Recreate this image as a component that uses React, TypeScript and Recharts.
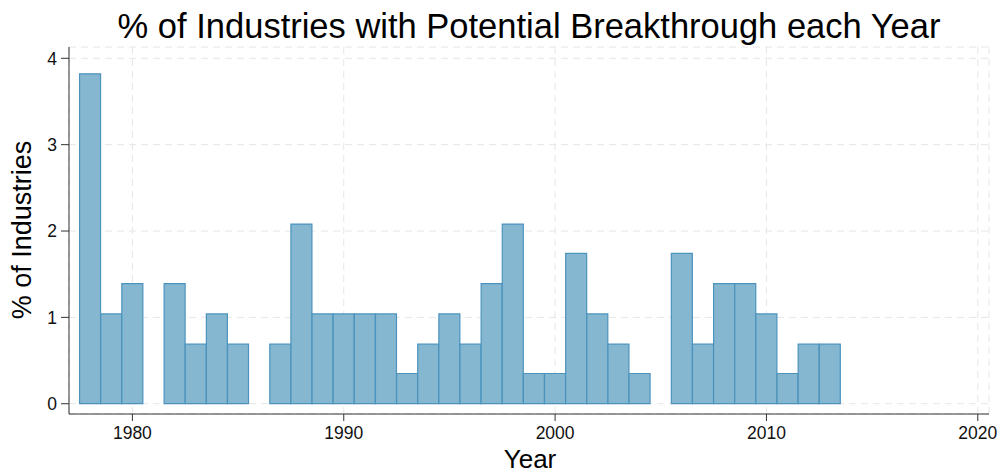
import { Bar, BarChart, CartesianGrid, XAxis, YAxis } from 'recharts';

const years = [
  1978, 1979, 1980, 1981, 1982, 1983, 1984, 1985, 1986, 1987, 1988, 1989, 1990, 1991, 1992, 1993, 1994, 1995,
  1996, 1997, 1998, 1999, 2000, 2001, 2002, 2003, 2004, 2005, 2006, 2007, 2008, 2009, 2010, 2011, 2012, 2013,
];

// % of industries (null = no bar that year)
const pctIndustries: (number | null)[] = [
  3.82, 1.04, 1.39, null, 1.39, 0.69, 1.04, 0.69, null, 0.69, 2.08, 1.04, 1.04, 1.04, 1.04, 0.35, 0.69, 1.04,
  0.69, 1.39, 2.08, 0.35, 0.35, 1.74, 1.04, 0.69, 0.35, null, 1.74, 0.69, 1.39, 1.39, 1.04, 0.35, 0.69, 0.69,
];

const xTicks = [1980, 1990, 2000, 2010, 2020];
const yTicks = [0, 1, 2, 3, 4];

const data = years.map((year, i) => ({ year, pct: pctIndustries[i] }));

const font = '"Liberation Sans", Arial, sans-serif';

export default function App() {
  return (
    <div style={{ position: 'absolute', left: 0, top: 0, width: 998, height: 474, background: '#fff', fontFamily: font }}>
      <div
        style={{
          position: 'absolute',
          left: 0,
          width: 1058,
          top: 7,
          textAlign: 'center',
          fontSize: 34.5,
          lineHeight: 'normal',
          color: '#000',
          whiteSpace: 'nowrap',
        }}
      >
        % of Industries with Potential Breakthrough each Year
      </div>
      <div
        style={{
          position: 'absolute',
          left: 22,
          top: 230,
          transform: 'translate(-50%, -50%) rotate(-90deg)',
          fontSize: 27,
          color: '#000',
          whiteSpace: 'nowrap',
        }}
      >
        % of Industries
      </div>
      <div
        style={{
          position: 'absolute',
          left: 530,
          top: 459,
          transform: 'translate(-50%, -50%)',
          fontSize: 26,
          lineHeight: 1,
          color: '#000',
        }}
      >
        Year
      </div>
      <BarChart
        width={998}
        height={474}
        data={data}
        margin={{ top: 47, right: 9, left: 39, bottom: 30 }}
        style={{ position: 'absolute', left: 0, top: 0 }}
      >
        <CartesianGrid stroke='#e6e6e6' strokeDasharray='7 5' ticks={yTicks} />
        <XAxis
          dataKey='year'
          type='number'
          domain={[1977, 2020.53]}
          ticks={xTicks}
          allowDataOverflow
          height={30}
          stroke='#333'
          tick={{ fill: '#111', fontSize: 17.5, fontFamily: font }}
          tickSize={7}
          tickMargin={6}
        />
        <YAxis
          type='number'
          domain={[-0.119, 4.131]}
          ticks={yTicks}
          allowDataOverflow
          width={30}
          stroke='#333'
          tick={{ fill: '#111', fontSize: 17.5, fontFamily: font }}
          tickSize={8}
          tickMargin={4}
        />
        <Bar dataKey='pct' fill='#86b7d0' stroke='#4b93bd' strokeWidth={1.2} barSize={21} isAnimationActive={false} />
      </BarChart>
    </div>
  );
}
